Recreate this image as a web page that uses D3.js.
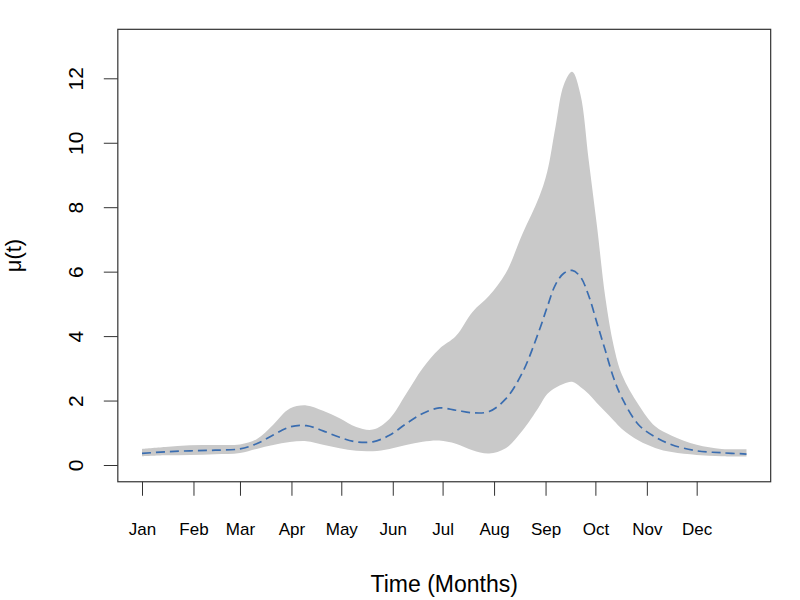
<html>
<head>
<meta charset="utf-8">
<script src="https://d3js.org/d3.v7.min.js"></script>
<style>
  body { margin: 0; background: #fff; }
  text { font-family: "Liberation Sans", Arial, sans-serif; fill: #000; }
</style>
</head>
<body>
<script>
// day of year and the fitted mean with its band
var days  = [1, 15, 30, 45, 60, 70, 80, 90, 100, 110, 120, 130, 140, 150, 160, 170, 180, 190, 200, 210,
             220, 230, 240, 245, 250, 255, 260, 265, 270, 275, 280, 285, 290, 300, 310, 320, 335, 350, 365];
var mean  = [0.36, 0.41, 0.44, 0.46, 0.50, 0.66, 0.93, 1.18, 1.22, 1.06, 0.86, 0.72, 0.72, 0.92, 1.28, 1.60, 1.77, 1.70, 1.62, 1.66,
             2.05, 2.86, 4.15, 4.90, 5.60, 5.95, 6.04, 5.84, 5.25, 4.40, 3.55, 2.70, 2.08, 1.25, 0.87, 0.63, 0.44, 0.38, 0.34];
var upper = [0.50, 0.56, 0.61, 0.62, 0.64, 0.80, 1.25, 1.75, 1.85, 1.68, 1.45, 1.18, 1.10, 1.43, 2.20, 3.00, 3.60, 4.00, 4.75, 5.25,
             5.95, 7.16, 8.30, 9.10, 10.5, 11.8, 12.2, 11.5, 9.45, 7.40, 5.20, 3.70, 2.80, 1.87, 1.20, 0.91, 0.63, 0.50, 0.49];
var lower = [0.27, 0.30, 0.31, 0.33, 0.37, 0.50, 0.62, 0.71, 0.74, 0.63, 0.52, 0.44, 0.43, 0.50, 0.62, 0.72, 0.76, 0.66, 0.46, 0.36,
             0.52, 1.06, 1.80, 2.20, 2.40, 2.52, 2.58, 2.42, 2.20, 1.92, 1.65, 1.38, 1.12, 0.76, 0.53, 0.40, 0.31, 0.27, 0.26];

var monthStart = [1, 32, 60, 91, 121, 152, 182, 213, 244, 274, 305, 335];
var monthNames = ["Jan", "Feb", "Mar", "Apr", "May", "Jun", "Jul", "Aug", "Sep", "Oct", "Nov", "Dec"];
var yTicks = [0, 2, 4, 6, 8, 10, 12];

var W = 800, H = 600;
var svg = d3.select("body").append("svg").attr("width", W).attr("height", H);

var x = d3.scaleLinear().domain([1, 365]).range([142, 746.5]);
var y = d3.scaleLinear().domain([0, 12]).range([465, 78.3]);

// R style 4% padding round the data range
var x0 = x(1 - 364 * 0.04), x1 = x(365 + 364 * 0.04);
var yb = y(-0.52), yt = y(13.52);

var rows = days.map(function(d, i) { return {d: d, m: mean[i], lo: lower[i], hi: upper[i]}; });
var smooth = d3.curveCatmullRom.alpha(0.5);

svg.append("path")
  .datum(rows)
  .attr("fill", "#c9c9c9")
  .attr("d", d3.area()
    .x(function(r) { return x(r.d); })
    .y0(function(r) { return y(r.lo); })
    .y1(function(r) { return y(r.hi); })
    .curve(smooth));

svg.append("path")
  .datum(rows)
  .attr("fill", "none")
  .attr("stroke", "#3a6db0")
  .attr("stroke-width", 1.7)
  .attr("stroke-dasharray", "9,5")
  .attr("d", d3.line()
    .x(function(r) { return x(r.d); })
    .y(function(r) { return y(r.m); })
    .curve(smooth));

// box
svg.append("rect")
  .attr("x", x0).attr("y", yt)
  .attr("width", x1 - x0).attr("height", yb - yt)
  .attr("fill", "none").attr("stroke", "#333").attr("stroke-width", 1.2);

// x axis
var xa = svg.append("g")
  .attr("transform", "translate(0," + yb + ")")
  .call(d3.axisBottom(x).tickValues(monthStart).tickSize(14).tickPadding(27)
    .tickFormat(function(d, i) { return monthNames[i]; }));
xa.select(".domain").remove();
xa.selectAll("line").attr("stroke", "#333");
xa.selectAll("text").style("font-size", "17px").attr("font-family", null);

// y axis
var ya = svg.append("g")
  .attr("transform", "translate(" + x0 + ",0)")
  .call(d3.axisLeft(y).tickValues(yTicks).tickSize(14));
ya.select(".domain").remove();
ya.selectAll("line").attr("stroke", "#333");
ya.selectAll("text")
  .attr("x", null).attr("dy", null)
  .attr("text-anchor", "middle")
  .attr("transform", "translate(" + (83 - x0) + ",0) rotate(-90)")
  .attr("font-family", null)
  .style("font-size", "21px");

// axis titles
svg.append("text")
  .attr("x", (x0 + x1) / 2).attr("y", 592)
  .attr("text-anchor", "middle")
  .style("font-size", "23px")
  .text("Time (Months)");

svg.append("text")
  .attr("transform", "translate(21," + ((yt + yb) / 2) + ") rotate(-90)")
  .attr("text-anchor", "middle")
  .style("font-size", "22px")
  .text("μ(t)");
</script>
</body>
</html>
